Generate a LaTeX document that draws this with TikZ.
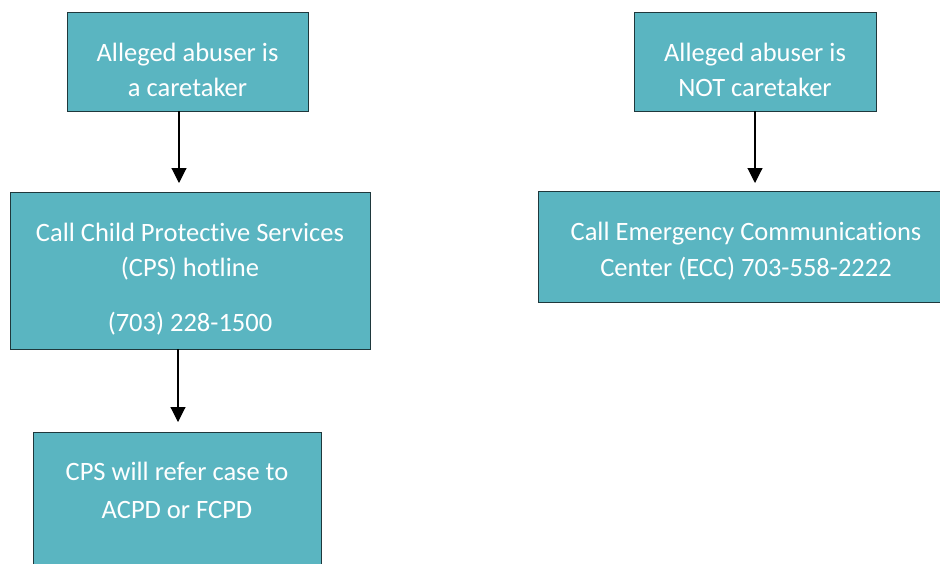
\documentclass[tikz,border=0pt]{standalone}
\usepackage{fontspec}
\setmainfont{Carlito}[RawFeature={-liga;-dlig;-calt}]
\usetikzlibrary{arrows.meta}
\definecolor{boxfill}{HTML}{5AB5C1}
\definecolor{boxline}{HTML}{1F383C}
\begin{document}
\begin{tikzpicture}[x=1pt,y=-1pt,
  box/.style={draw=boxline,fill=boxfill,line width=1.1pt,rectangle,inner sep=0pt,anchor=north west},
  ln/.style={text=white,anchor=base,inner sep=0pt,font=\fontsize{26.5}{32}\selectfont},
  arr/.style={draw=black,line width=1.1pt,-{Triangle[width=15pt,length=15pt]}}]
\useasboundingbox (0,0) rectangle (940,563);
\clip (0,0) rectangle (940,563);
% boxes
\node[box,minimum width=241pt,minimum height=99pt] (b1) at (67,12) {};
\node[box,minimum width=360pt,minimum height=157pt] (b2) at (10,192) {};
\node[box,minimum width=288pt,minimum height=160pt] (b3) at (33,432) {};
\node[box,minimum width=242pt,minimum height=99pt] (b4) at (634,12) {};
\node[box,minimum width=416pt,minimum height=111pt] (b5) at (538,191) {};
% texts
\node[ln] (t1a) at (187.5,61) {Alleged abuser is};
\node[ln] (t1b) at (187.5,96.5) {a caretaker};
\node[ln] (t2a) at (190,241.5) {Call Child Protective Services};
\node[ln] (t2b) at (190,276.5) {(CPS) hotline};
\node[ln] (t2c) at (190,331.5) {(703) 228-1500};
\node[ln] (t3a) at (177,480.5) {CPS will refer case to};
\node[ln] (t3b) at (177,518) {ACPD or FCPD};
\node[ln] (t4a) at (755,61) {Alleged abuser is};
\node[ln] (t4b) at (755,96.5) {NOT caretaker};
\node[ln] (t5a) at (746,240.5) {Call Emergency Communications};
\node[ln] (t5b) at (746,276.5) {Center (ECC) 703-558-2222};
% arrows
\coordinate (s1) at (179,111);
\coordinate (s2) at (178,349);
\coordinate (s3) at (755,111);
\draw[arr,shorten >=9pt] (s1) -- (s1 |- b2.north);
\draw[arr,shorten >=10pt] (s2) -- (s2 |- b3.north);
\draw[arr,shorten >=8pt] (s3) -- (s3 |- b5.north);
\end{tikzpicture}
\end{document}
